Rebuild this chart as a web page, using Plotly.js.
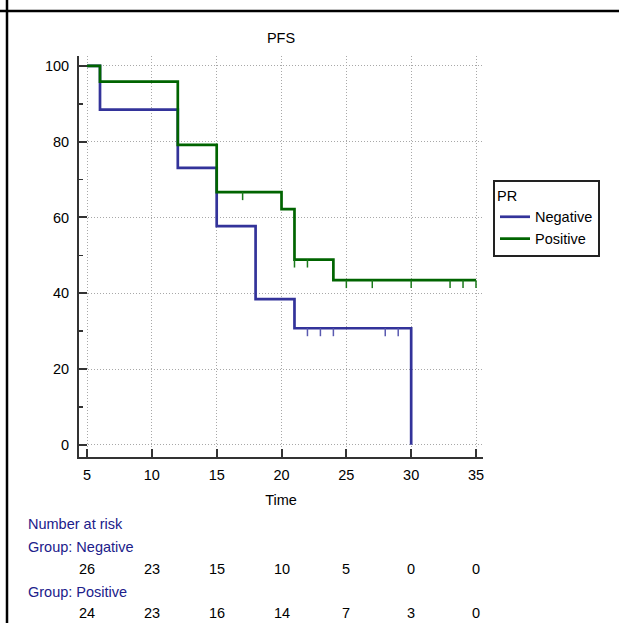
<!DOCTYPE html>
<html>
<head>
<meta charset="utf-8">
<script src="https://cdn.plot.ly/plotly-3.0.1.min.js"></script>
<style>
html,body{margin:0;padding:0;background:#fff;}
#chart{width:619px;height:623px;}
</style>
</head>
<body>
<div id="chart"></div>
<script>
// ---- data ----
const negTime = [5, 6, 12, 15, 18, 21, 30];
const negSurv = [100, 88.46, 73.08, 57.69, 38.46, 30.77, 0];
const negCensor = [22, 23, 24, 28, 29];

const posTime = [5, 6, 12, 15, 20, 21, 24, 35];
const posSurv = [100, 95.83, 79.17, 66.67, 62.22, 48.89, 43.46, 43.46];
const posCensor = [17, 21, 22, 25, 27, 30, 33, 34, 35];

const riskTimes = [5, 10, 15, 20, 25, 30, 35];
const riskNeg = [26, 23, 15, 10, 5, 0, 0];
const riskPos = [24, 23, 16, 14, 7, 3, 0];

const xTicks = [5, 10, 15, 20, 25, 30, 35];
const yTicks = [0, 20, 40, 60, 80, 100];

const groupNames = ['Negative', 'Positive'];
const legendTitle = 'PR';
const chartTitle = 'PFS';
const xTitle = 'Time';

// ---- helpers ----
function survAt(times, surv, t) {
  let v = surv[0];
  for (let i = 0; i < times.length; i++) { if (times[i] <= t) v = surv[i]; }
  return v;
}

const FONT = 'Liberation Sans, Arial, sans-serif';
const FS = 14.5;
const BLUE = '#33339a';
const GREEN = '#006400';
const NAVY = '#20208a';
const TICKLEN = 2.1; // censor tick length in y units

function censorTrace(times, surv, cens, color) {
  return {
    x: cens, y: cens.map(t => survAt(times, surv, t)),
    type: 'scatter', mode: 'markers',
    marker: {size: 1, opacity: 0, color: color},
    error_y: {type: 'data', symmetric: false, array: cens.map(() => 0),
              arrayminus: cens.map(() => TICKLEN), width: 0, thickness: 1.5, color: color},
    showlegend: false, hoverinfo: 'skip', cliponaxis: false
  };
}

const traces = [
  {x: negTime, y: negSurv, type: 'scatter', mode: 'lines', name: groupNames[0],
   line: {shape: 'hv', color: BLUE, width: 2.7}, cliponaxis: false},
  {x: posTime, y: posSurv, type: 'scatter', mode: 'lines', name: groupNames[1],
   line: {shape: 'hv', color: GREEN, width: 2.7}, cliponaxis: false},
  censorTrace(negTime, negSurv, negCensor, '#5a5ab0'),
  censorTrace(posTime, posSurv, posCensor, '#1a7a1a')
];

// pixel -> paper helpers for layout placement
const L = 79, R = 483, T = 56, B = 457;
const px = p => (p - L) / (R - L);
const py = p => (B - p) / (B - T);

const annotations = [
  {text: 'Number at risk', xref: 'paper', yref: 'paper', x: px(26), y: py(524), xanchor: 'left', yanchor: 'middle', showarrow: false, font: {color: NAVY, size: FS, family: FONT}},
  {text: 'Group: ' + groupNames[0], xref: 'paper', yref: 'paper', x: px(26), y: py(547), xanchor: 'left', yanchor: 'middle', showarrow: false, font: {color: NAVY, size: FS, family: FONT}},
  {text: 'Group: ' + groupNames[1], xref: 'paper', yref: 'paper', x: px(26), y: py(592), xanchor: 'left', yanchor: 'middle', showarrow: false, font: {color: NAVY, size: FS, family: FONT}}
];
riskTimes.forEach((t, i) => {
  annotations.push({text: String(riskNeg[i]), xref: 'x', yref: 'paper', x: t, y: py(569), xanchor: 'center', yanchor: 'middle', showarrow: false, font: {color: '#000', size: FS, family: FONT}});
  annotations.push({text: String(riskPos[i]), xref: 'x', yref: 'paper', x: t, y: py(613), xanchor: 'center', yanchor: 'middle', showarrow: false, font: {color: '#000', size: FS, family: FONT}});
});

const shapes = [
  {type: 'line', xref: 'paper', yref: 'paper', x0: px(0), x1: px(619), y0: py(11), y1: py(11), line: {color: '#000', width: 2.5}},
  {type: 'line', xref: 'paper', yref: 'paper', x0: px(7), x1: px(7), y0: py(0), y1: py(623), line: {color: '#000', width: 2.5}}
];

const GRID = '#a8a8a8';
const DASH = '1px,2px';

const layout = {
  width: 619, height: 623,
  margin: {l: L, r: 619 - R, t: T, b: 623 - B, pad: 0},
  paper_bgcolor: '#fff', plot_bgcolor: '#fff',
  font: {family: FONT, size: FS, color: '#000'},
  title: {text: chartTitle, x: 0.5, xref: 'paper', xanchor: 'center', y: 1 - 38 / 623, yref: 'container', yanchor: 'middle', font: {size: FS, family: FONT, color: '#000'}},
  xaxis: {
    range: [4.38, 35.54], tickvals: xTicks, ticktext: xTicks.map(String),
    ticks: 'inside', ticklen: 8, tickwidth: 2, tickcolor: '#333',
    showline: true, linecolor: '#333', linewidth: 2, mirror: false,
    showgrid: true, gridcolor: GRID, griddash: DASH, gridwidth: 1,
    zeroline: false, ticklabelstandoff: 4,
    title: {text: xTitle, standoff: 12, font: {size: FS, family: FONT}},
    fixedrange: true
  },
  yaxis: {
    range: [-3.2, 102.6], tickvals: yTicks, ticktext: yTicks.map(String),
    ticks: 'inside', ticklen: 8, tickwidth: 2, tickcolor: '#333',
    minor: {dtick: 10, tick0: 10, ticks: 'inside', ticklen: 4, tickwidth: 1.5, tickcolor: '#333', showgrid: false},
    showline: true, linecolor: '#333', linewidth: 2, mirror: false,
    showgrid: true, gridcolor: GRID, griddash: DASH, gridwidth: 1,
    zeroline: false, ticklabelstandoff: 5,
    fixedrange: true
  },
  showlegend: true,
  legend: {
    x: px(493), y: py(180), xanchor: 'left', yanchor: 'top',
    bordercolor: '#222', borderwidth: 2, bgcolor: '#fff',
    title: {text: legendTitle, side: 'top', font: {size: FS, family: FONT}},
    font: {size: FS, family: FONT}, itemwidth: 30, tracegroupgap: 0
  },
  annotations: annotations,
  shapes: shapes
};

Plotly.newPlot('chart', traces, layout, {displayModeBar: false, staticPlot: true});
</script>
</body>
</html>
